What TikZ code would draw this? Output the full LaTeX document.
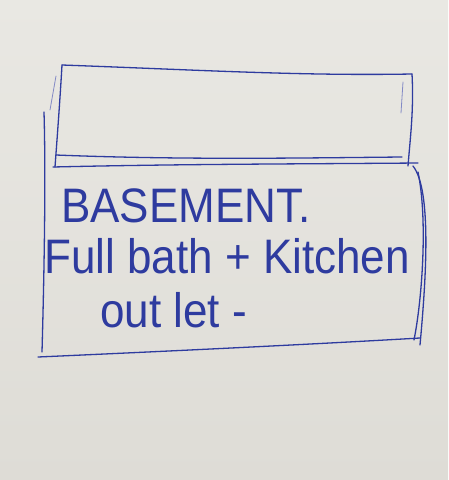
\documentclass[tikz,border=0pt]{standalone}
\usepackage{fontspec}
\setmainfont{Liberation Sans}
\definecolor{paper}{HTML}{E9E8E3}
\definecolor{paperdark}{HTML}{DEDCD6}
\definecolor{ink}{HTML}{2E3B9F}
\begin{document}
\begin{tikzpicture}[x=1pt,y=-1pt,
  pen/.style={draw=ink,line width=1.3pt,line cap=round,line join=round},
  faint/.style={draw=ink!60,line width=0.8pt,line cap=round},
  hand/.style={text=ink,font=\fontsize{44}{48}\selectfont,inner sep=0pt,anchor=base west,yscale=1.1}]
\shade[top color=paper,bottom color=paperdark] (0,0) rectangle (448,480);
\useasboundingbox (0,0) rectangle (448,480);
% upper box
\draw[pen] (62,65) .. controls (200,70) and (300,76) .. (412,74);
\draw[pen] (412,74) .. controls (414,110) and (410,140) .. (408,166);
\draw[pen] (62,65) .. controls (60,100) and (57,140) .. (55,167);
\draw[pen] (56,155) .. controls (180,160) and (300,158) .. (402,157);
\draw[pen] (53,167) .. controls (180,164) and (300,164) .. (418,163);
\draw[faint] (56,76) -- (50,110);
\draw[faint] (403,82) -- (401,113);
% lower box
\draw[pen] (44,112) .. controls (46,180) and (44,280) .. (42,352);
\draw[pen] (38,357) .. controls (150,352) and (300,345) .. (420,338);
\draw[pen] (413,166) .. controls (432,190) and (426,280) .. (420,345);
\draw[pen] (418,172) .. controls (428,220) and (422,300) .. (414,340);
% text
\node[hand] (t1) at (61,222) {BASEMENT.};
\node[hand] (t2) at (44,273) {Full bath + Kitchen};
\node[hand] (t3) at (100,327) {out let -};
\end{tikzpicture}
\end{document}
